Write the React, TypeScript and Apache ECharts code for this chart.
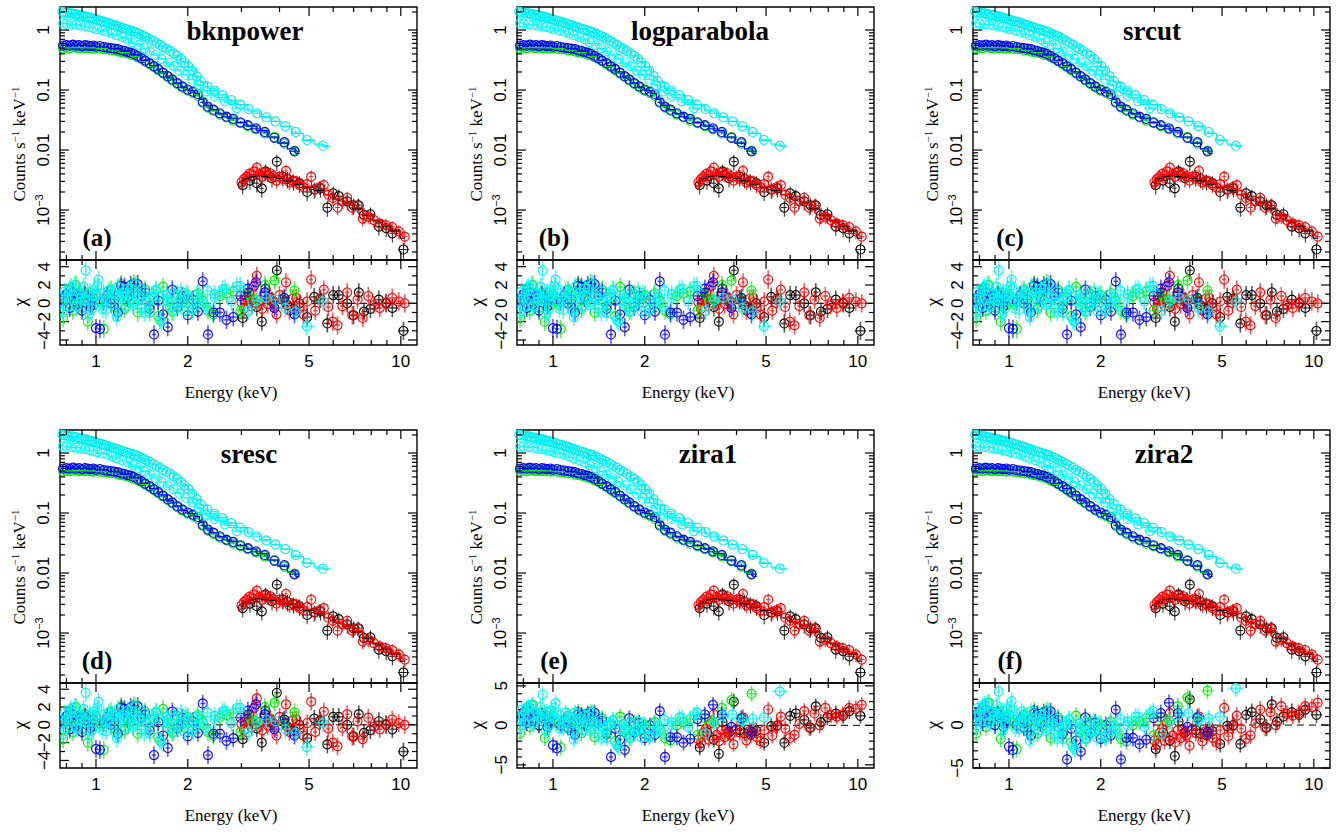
import React, { useEffect, useRef } from 'react';
import * as echarts from 'echarts';

const SERIF = '"Liberation Serif", "Times New Roman", serif';
const SANS = '"Liberation Sans", Arial, sans-serif';

// ---------------- panels ----------------
const PANEL_TITLES = ['bknpower', 'logparabola', 'srcut', 'sresc', 'zira1', 'zira2'];
const PANEL_TAGS = ['(a)', '(b)', '(c)', '(d)', '(e)', '(f)'];
const PANEL_RESID_SET = [0, 0, 0, 0, 1, 1];
const PANEL_RESID_RANGE = [
  [-4.55, 4.73], [-4.55, 4.73], [-4.55, 4.73],
  [-4.85, 4.7], [-5.4, 5.36], [-5.0, 4.9],
];

// ---------------- axes / ticks ----------------
const X_MIN = 0.762;
const X_MAX = 11.3;
const Y_MIN = 1.47e-4;
const Y_MAX = 2.42;
const X_MAJOR = [1, 2, 5, 10];
const X_MAJOR_LABELS = ['1', '2', '5', '10'];
const X_MINOR = [0.8, 0.9, 3, 4, 6, 7, 8, 9];
const Y_MAJOR = [0.001, 0.01, 0.1, 1];
const Y_MAJOR_LABELS = ['{a|10}{b|−3}', '{a|0.01}', '{a|0.1}', '{a|1}'];
const Y_MINOR = [
  2e-4, 3e-4, 4e-4, 5e-4, 6e-4, 7e-4, 8e-4, 9e-4,
  0.002, 0.003, 0.004, 0.005, 0.006, 0.007, 0.008, 0.009,
  0.02, 0.03, 0.04, 0.05, 0.06, 0.07, 0.08, 0.09,
  0.2, 0.3, 0.4, 0.5, 0.6, 0.7, 0.8, 0.9, 2,
];
const RES_MAJOR = [[-4, -2, 0, 2, 4], [-5, 0, 5]];
const RES_MINOR = [[-3, -1, 1, 3], [-4, -3, -2, -1, 1, 2, 3, 4]];

// ---------------- spectra data (keV, counts/s/keV) ----------------
const E_BG = [0.78, 0.80, 0.82, 0.84, 0.86, 0.88, 0.90, 0.92, 0.94, 0.96, 0.98, 1.00, 1.03, 1.06, 1.09, 1.12, 1.15, 1.18, 1.21, 1.24, 1.27, 1.30, 1.33, 1.37, 1.41, 1.45, 1.50, 1.55, 1.60, 1.66, 1.72, 1.78, 1.85, 1.92, 2.00, 2.08, 2.16, 2.24, 2.33, 2.43, 2.55, 2.68, 2.82, 2.98, 3.15, 3.35, 3.58, 3.85, 4.15, 4.48];
const BLUE = [0.55, 0.56, 0.55, 0.57, 0.55, 0.56, 0.54, 0.56, 0.55, 0.54, 0.55, 0.53, 0.54, 0.52, 0.51, 0.50, 0.49, 0.48, 0.46, 0.45, 0.43, 0.42, 0.40, 0.37, 0.34, 0.31, 0.28, 0.25, 0.225, 0.195, 0.17, 0.15, 0.13, 0.115, 0.102, 0.094, 0.086, 0.062, 0.053, 0.047, 0.041, 0.036, 0.033, 0.029, 0.026, 0.023, 0.020, 0.016, 0.0135, 0.0095];
const GREEN = [0.50, 0.51, 0.50, 0.52, 0.51, 0.50, 0.51, 0.50, 0.51, 0.50, 0.49, 0.50, 0.49, 0.48, 0.48, 0.46, 0.46, 0.44, 0.43, 0.42, 0.41, 0.39, 0.38, 0.35, 0.33, 0.30, 0.27, 0.24, 0.215, 0.19, 0.165, 0.145, 0.125, 0.11, 0.098, 0.09, 0.08, 0.065, 0.051, 0.045, 0.039, 0.035, 0.031, 0.028, 0.025, 0.022, 0.019, 0.0165, 0.0128, 0.0098];
const E_CU = [0.775, 0.79, 0.805, 0.82, 0.835, 0.85, 0.865, 0.88, 0.895, 0.91, 0.925, 0.94, 0.955, 0.97, 0.985, 1.00, 1.02, 1.04, 1.06, 1.08, 1.10, 1.12, 1.14, 1.16, 1.18, 1.20, 1.225, 1.25, 1.275, 1.30, 1.325, 1.35, 1.38, 1.41, 1.44, 1.47, 1.50, 1.54, 1.58, 1.62, 1.66, 1.70, 1.75, 1.80, 1.85, 1.90, 1.95, 2.01, 2.07, 2.14, 2.21, 2.32, 2.45, 2.60, 2.78, 2.97, 3.17, 3.38, 3.62, 3.88, 4.18, 4.52, 4.92, 5.55];
const CYAN_U = [2.02, 1.97, 1.95, 1.90, 1.89, 1.84, 1.82, 1.78, 1.76, 1.71, 1.69, 1.64, 1.61, 1.58, 1.54, 1.50, 1.46, 1.41, 1.38, 1.33, 1.30, 1.26, 1.22, 1.19, 1.15, 1.12, 1.08, 1.05, 1.01, 0.98, 0.95, 0.92, 0.87, 0.83, 0.79, 0.75, 0.71, 0.66, 0.61, 0.57, 0.52, 0.49, 0.45, 0.41, 0.37, 0.33, 0.29, 0.25, 0.21, 0.17, 0.14, 0.115, 0.098, 0.082, 0.068, 0.057, 0.048, 0.041, 0.035, 0.030, 0.025, 0.020, 0.0148, 0.0118];
const E_CL = [0.78, 0.80, 0.83, 0.86, 0.89, 0.92, 0.95, 0.98, 1.01, 1.05, 1.09, 1.13, 1.17, 1.22, 1.27, 1.32, 1.38, 1.44, 1.50, 1.57, 1.64, 1.72, 1.80, 1.88, 1.97, 2.07, 2.18, 2.30, 2.45, 2.65, 2.90];
const CYAN_L = [1.30, 1.28, 1.26, 1.23, 1.20, 1.17, 1.13, 1.09, 1.04, 0.99, 0.94, 0.88, 0.82, 0.76, 0.70, 0.63, 0.56, 0.50, 0.44, 0.38, 0.33, 0.29, 0.25, 0.21, 0.18, 0.15, 0.12, 0.095, 0.08, 0.065, 0.05];
const E_RED = [3.00, 3.06, 3.12, 3.18, 3.24, 3.30, 3.37, 3.44, 3.51, 3.58, 3.66, 3.74, 3.82, 3.91, 4.00, 4.10, 4.20, 4.31, 4.42, 4.54, 4.66, 4.79, 4.93, 5.08, 5.24, 5.41, 5.59, 5.78, 5.98, 6.20, 6.43, 6.67, 6.93, 7.21, 7.50, 7.82, 8.16, 8.53, 8.93, 9.37, 9.85, 10.3];
const RED = [0.0029, 0.0033, 0.0036, 0.0040, 0.0038, 0.0044, 0.0051, 0.0040, 0.0036, 0.0042, 0.0039, 0.0041, 0.0037, 0.0031, 0.0036, 0.0033, 0.0045, 0.0029, 0.0031, 0.0030, 0.0026, 0.0024, 0.0027, 0.0036, 0.0022, 0.0024, 0.0026, 0.0018, 0.0016, 0.0011, 0.0014, 0.0016, 0.0011, 0.0012, 0.00072, 0.00078, 0.00068, 0.00060, 0.00056, 0.00052, 0.00044, 0.00036];
const E_BLK = [3.03, 3.20, 3.37, 3.50, 3.60, 3.78, 3.92, 4.10, 4.25, 4.45, 4.65, 4.93, 5.20, 5.45, 5.74, 6.00, 6.26, 6.67, 7.00, 7.28, 7.57, 7.95, 8.47, 8.95, 9.38, 10.2];
const BLACK = [0.0026, 0.0031, 0.0028, 0.0023, 0.0044, 0.0034, 0.0064, 0.0036, 0.0033, 0.0030, 0.0028, 0.0020, 0.0022, 0.0023, 0.0011, 0.0019, 0.0017, 0.0014, 0.0012, 0.0012, 0.00083, 0.00085, 0.00053, 0.00050, 0.00041, 0.00022];

// ---------------- folded models (step histograms) ----------------
const MOD_E_BG = [0.77, 0.85, 0.95, 1.05, 1.15, 1.25, 1.35, 1.45, 1.55, 1.65, 1.75, 1.85, 1.95, 2.05, 2.15, 2.22, 2.3, 2.45, 2.6, 2.8, 3.0, 3.25, 3.5, 3.8, 4.1, 4.4, 4.65];
const MOD_BLUE = [0.555, 0.555, 0.548, 0.525, 0.49, 0.445, 0.385, 0.315, 0.255, 0.2, 0.16, 0.13, 0.11, 0.098, 0.088, 0.07, 0.056, 0.047, 0.04, 0.034, 0.029, 0.025, 0.021, 0.0165, 0.013, 0.0105, 0.0088];
const MOD_GREEN = [0.505, 0.51, 0.505, 0.49, 0.46, 0.42, 0.365, 0.3, 0.245, 0.195, 0.155, 0.127, 0.107, 0.095, 0.085, 0.07, 0.054, 0.045, 0.039, 0.033, 0.028, 0.0245, 0.0205, 0.0165, 0.013, 0.0102, 0.0088];
const MOD_E_CU = [0.77, 0.85, 0.95, 1.05, 1.15, 1.25, 1.35, 1.45, 1.55, 1.65, 1.75, 1.85, 1.95, 2.05, 2.15, 2.25, 2.4, 2.6, 2.8, 3.0, 3.3, 3.6, 3.9, 4.2, 4.6, 5.0, 5.4, 5.8];
const MOD_CYAN_U = [2.0, 1.84, 1.63, 1.42, 1.22, 1.05, 0.91, 0.77, 0.65, 0.54, 0.46, 0.37, 0.3, 0.235, 0.17, 0.135, 0.105, 0.085, 0.068, 0.057, 0.045, 0.036, 0.030, 0.025, 0.019, 0.0145, 0.0125, 0.0115];
const MOD_E_CL = [0.77, 0.85, 0.95, 1.05, 1.15, 1.25, 1.35, 1.45, 1.55, 1.65, 1.75, 1.85, 1.95, 2.05, 2.15, 2.25, 2.38, 2.55, 2.75, 3.0];
const MOD_CYAN_L = [1.31, 1.24, 1.12, 0.99, 0.85, 0.73, 0.6, 0.49, 0.4, 0.33, 0.27, 0.22, 0.18, 0.15, 0.125, 0.1, 0.088, 0.075, 0.062, 0.05];
const MOD_E_HI = [2.98, 3.1, 3.25, 3.4, 3.6, 3.8, 4.0, 4.3, 4.6, 5.0, 5.4, 5.8, 6.2, 6.7, 7.2, 7.8, 8.4, 9.0, 9.6, 10.3];
const MOD_RED = [0.0029, 0.0035, 0.0039, 0.0040, 0.0039, 0.0037, 0.0035, 0.0032, 0.0028, 0.0025, 0.0022, 0.0018, 0.0015, 0.0013, 0.0011, 0.00085, 0.00068, 0.00056, 0.00047, 0.00038];
const MOD_BLACK = [0.0028, 0.0033, 0.0036, 0.0037, 0.0036, 0.0035, 0.0034, 0.0031, 0.0027, 0.0024, 0.0021, 0.0018, 0.0015, 0.0013, 0.00105, 0.00082, 0.00066, 0.00054, 0.00045, 0.00034];

// ---------------- residuals (chi), set A: panels a-d ----------------
const RA_BLUE = [0.3, 1.0, -0.5, 1.2, 0.2, 0.8, -0.8, 0.9, 0.4, -0.3, 0.6, -2.7, -2.8, 0.2, 0.9, 0.0, 0.4, -1.0, 1.9, 1.8, 0.6, 2.0, 1.7, 2.1, 0.8, 1.2, -0.6, -3.4, 0.3, -1.2, -2.6, 1.5, -0.4, 0.8, -1.3, 0.4, -0.9, 2.4, -3.4, -1.0, -1.0, -1.8, -1.5, 0.8, 1.6, 2.3, 1.2, -0.5, 0.6, -1.2];
const RA_GREEN = [-1.6, 0.5, 1.4, -0.8, 2.0, 0.3, -0.5, 1.2, -2.0, 0.8, -0.2, 1.0, 0.2, -2.8, 0.5, 1.5, -0.4, 0.9, 2.1, -0.6, 1.2, 0.4, 2.2, -1.0, 0.8, 1.5, -0.3, 0.6, -1.4, 1.8, 0.2, -0.9, 1.0, 0.1, 0.9, -0.6, 1.1, 0.3, -0.8, -1.2, 0.8, 1.1, 1.3, -0.8, 1.0, 0.4, 2.0, 2.5, 0.5, 1.4];
const RA_CYAN_U = [0.2, 1.3, -0.4, 1.6, 0.5, 2.0, -0.3, 1.1, 0.6, 1.8, 3.6, 0.4, 1.2, -0.6, 1.5, 0.8, 2.6, 0.3, 1.1, -0.7, 1.4, 0.2, 1.0, -0.9, 1.8, 0.5, 1.2, -0.3, 0.9, 1.6, 0.1, 2.1, 0.6, -0.5, 1.3, 0.2, -1.0, 0.7, 1.4, -1.8, 0.3, 0.9, -0.4, 1.1, 0.0, 1.3, -0.8, 0.5, -0.6, 0.9, 0.6, 1.4, 1.0, 1.5, 0.2, 1.9, -0.8, 0.3, 0.6, 0.4, -0.5, -0.9, -2.5, 0.2];
const RA_CYAN_L = [-1.0, 0.6, 1.8, -0.4, 1.0, 0.3, -1.2, 0.8, 1.9, -0.6, 0.5, 1.2, -1.5, 0.7, 1.6, -0.2, 0.9, -1.0, 0.4, 1.5, -2.0, 0.6, -0.8, 0.3, 1.1, -0.7, 0.2, -0.3, 0.6, 1.6, 1.9];
const RA_RED = [0.1, -0.6, 0.6, 1.2, -0.3, 1.9, 3.0, 0.3, -0.6, 0.9, -0.1, 0.6, 0.2, -1.2, 0.9, 0.4, 2.3, -0.8, 0.5, 0.6, -0.5, -1.2, 0.2, 2.6, -0.8, 0.4, 1.5, -0.4, -2.0, -2.4, -0.3, 1.2, -1.3, 0.4, -1.6, 0.8, -0.2, -0.5, 0.1, 0.6, 0.2, 0.0];
const RA_BLACK = [-1.6, 0.5, -0.4, -2.0, 1.6, 0.2, 3.6, 0.4, -0.2, -0.6, 0.0, -1.5, 0.7, 0.5, -2.2, 0.9, 0.9, 0.0, -1.3, 1.2, -0.9, -0.6, 0.4, 0.0, -0.5, -3.0];

// ---------------- residuals (chi), set B: panels e-f ----------------
const RB_BLUE = [0.8, 1.6, 0.3, 1.8, 0.9, 1.3, 0.0, 1.2, 0.8, -0.2, 0.5, -2.5, -2.9, 0.0, 0.6, -0.3, 0.2, -1.2, 1.4, 1.3, 0.2, 1.5, 1.2, 1.6, 0.3, 0.6, -1.1, -4.0, -0.4, -1.8, -3.1, 0.9, -0.9, 0.3, -1.6, 0.0, -1.2, 1.8, -4.0, -1.5, -1.5, -2.2, -1.7, 0.8, 1.4, 2.6, 1.4, -0.2, 0.9, -0.8];
const RB_GREEN = [-1.0, 1.0, 2.0, -0.2, 2.6, 0.8, 0.0, 1.6, -1.6, 1.2, 0.2, 1.2, 0.3, -2.8, 0.4, 1.2, -0.7, 0.6, 1.7, -1.0, 0.8, 0.0, 1.7, -1.5, 0.3, 0.9, -0.9, 0.0, -2.0, 1.1, -0.5, -1.6, 0.3, -0.6, 0.1, -1.3, 0.4, -0.5, -1.6, -1.9, 0.0, 0.4, 0.8, -1.2, 0.9, 0.5, 2.2, 3.2, 0.8, 4.0];
const RB_CYAN_U = [0.9, 2.0, 0.4, 2.2, 1.2, 2.6, 0.3, 1.6, 1.1, 2.3, 3.9, 0.9, 1.7, 0.0, 1.9, 1.2, 2.8, 0.6, 1.3, -0.4, 1.6, 0.4, 1.1, -0.8, 1.6, 0.3, 0.9, -0.6, 0.5, 1.2, -0.3, 1.6, 0.1, -1.0, 0.7, -0.4, -1.6, 0.0, 0.6, -2.5, -0.5, 0.2, -1.1, 0.4, -0.7, 0.5, -1.5, -0.3, -1.4, 0.2, -0.1, 0.7, 0.4, 1.0, -0.2, 1.6, -1.0, 0.4, 1.2, 1.4, 0.6, 0.8, 1.0, 4.3];
const RB_CYAN_L = [-0.3, 1.2, 2.4, 0.2, 1.5, 0.8, -0.7, 1.2, 2.2, -0.4, 0.5, 1.0, -1.8, 0.4, 1.2, -0.7, 0.3, -1.6, -0.3, 0.7, -2.8, -0.3, -1.6, -0.6, 0.2, -1.5, -0.7, -1.0, 0.0, 1.0, 1.4];
const RB_RED = [-1.8, -2.2, -0.9, -0.4, -1.8, 0.3, 1.4, -1.2, -2.0, -0.6, -1.5, -0.9, -1.2, -2.4, -0.5, -0.9, 1.0, -1.9, -0.7, -0.5, -1.5, -2.0, -0.6, 2.0, -1.3, -0.1, 1.1, -0.4, -1.6, -1.2, 0.2, 1.8, -0.3, 1.5, 0.0, 2.2, 1.3, 1.1, 1.4, 2.2, 2.1, 2.6];
const RB_BLACK = [-2.8, -0.9, -1.8, -3.6, 0.4, -0.9, 3.0, -0.6, -1.0, -1.2, -0.7, -2.2, -0.1, 0.0, -2.2, 1.2, 1.5, 0.7, -0.3, 2.4, 0.4, 1.0, 1.5, 1.2, 1.8, 1.2];

// ---------------- datasets (drawing order: black, red, green, blue, cyan) ----------------
const DATASETS = [
  { name: 'black', color: '#000000', E: E_BLK, V: BLACK, RA: RA_BLACK, RB: RB_BLACK, ME: MOD_E_HI, MV: MOD_BLACK, err: 0.3 },
  { name: 'red', color: '#ff0000', E: E_RED, V: RED, RA: RA_RED, RB: RB_RED, ME: MOD_E_HI, MV: MOD_RED, err: 0.26 },
  { name: 'green', color: '#00ee00', E: E_BG, V: GREEN, RA: RA_GREEN, RB: RB_GREEN, ME: MOD_E_BG, MV: MOD_GREEN, err: 0.05 },
  { name: 'blue', color: '#0000ff', E: E_BG, V: BLUE, RA: RA_BLUE, RB: RB_BLUE, ME: MOD_E_BG, MV: MOD_BLUE, err: 0.05 },
  { name: 'cyanL', color: '#00ffff', E: E_CL, V: CYAN_L, RA: RA_CYAN_L, RB: RB_CYAN_L, ME: MOD_E_CL, MV: MOD_CYAN_L, err: 0.05 },
  { name: 'cyanU', color: '#00f0f0', E: E_CU, V: CYAN_U, RA: RA_CYAN_U, RB: RB_CYAN_U, ME: MOD_E_CU, MV: MOD_CYAN_U, err: 0.05 },
];

// ---------------- layout ----------------
const COL_LEFT = [60, 517, 973];
const COL_W = 357;
const ROW_TOP = [7, 430];
const SPEC_H = 253;
const RES_H = 85;
const TITLE_DX = [185, 183, 179, 189, 191, 191];

function zip(E: number[], V: number[]) {
  const n = Math.min(E.length, V.length);
  const out: number[][] = [];
  for (let i = 0; i < n; i++) out.push([E[i], V[i]]);
  return out;
}

function pointRenderer(E: number[], color: string, relErr: number | null) {
  const isRes = relErr == null;
  return (params: any, api: any) => {
    const i = params.dataIndex;
    const e = api.value(0);
    const v = api.value(1);
    const c = api.coord([e, v]);
    const xp = i > 0 ? api.coord([E[i - 1], v])[0] : null;
    const xn = i < E.length - 1 ? api.coord([E[i + 1], v])[0] : null;
    const hl = xp != null ? (c[0] - xp) / 2 : (xn! - c[0]) / 2;
    const hr = xn != null ? (xn - c[0]) / 2 : (c[0] - xp!) / 2;
    let yt: number;
    let yb: number;
    if (!isRes) {
      yt = api.coord([e, v * (1 + relErr!)])[1];
      yb = api.coord([e, v * (1 - relErr!)])[1];
    } else {
      yt = api.coord([e, v + 1])[1];
      yb = api.coord([e, v - 1])[1];
    }
    const barStyle = { stroke: color, lineWidth: isRes ? 1.6 : 1, opacity: isRes ? 0.65 : 0.85 };
    return {
      type: 'group',
      children: [
        { type: 'line', shape: { x1: c[0] - hl, y1: c[1], x2: c[0] + hr, y2: c[1] }, style: barStyle },
        { type: 'line', shape: { x1: c[0], y1: yt, x2: c[0], y2: yb }, style: barStyle },
        { type: 'circle', shape: { cx: c[0], cy: c[1], r: 4.5 }, style: { fill: 'none', stroke: color, lineWidth: 1.1 } },
      ],
    };
  };
}

function txt(x: number, y: number, text: string, size: number, family: string, extra: any = {}) {
  return {
    type: 'text', x, y, rotation: extra.rotation || 0, silent: true,
    style: {
      text, fill: '#000', fontSize: size, fontFamily: family, fontWeight: extra.weight || 'normal',
      align: 'center', verticalAlign: 'middle', textAlign: 'center', textVerticalAlign: 'middle',
      rich: extra.rich,
    },
  };
}

function tickRenderer(isRes: boolean, set: number, range: number[]) {
  return (params: any, api: any) => {
    const cs = params.coordSys;
    const x0 = cs.x, y0 = cs.y, w = cs.width, h = cs.height;
    const yRef = isRes ? 0 : 1;
    const ch: any[] = [];
    const ln = (x1: number, y1: number, x2: number, y2: number, extra: any = {}) =>
      ch.push({ type: 'line', shape: { x1, y1, x2, y2 }, style: { stroke: '#000', lineWidth: 1.2, ...extra } });
    if (isRes) {
      const yz = api.coord([1, 0])[1];
      ln(x0, yz, x0 + w, yz, { lineDash: [7, 5], lineWidth: 1 });
    }
    const addX = (E: number, len: number) => {
      const x = api.coord([E, yRef])[0];
      ln(x, y0 + h, x, y0 + h - len);
      ln(x, y0, x, y0 + len);
    };
    X_MAJOR.forEach((E) => addX(E, 9));
    X_MINOR.forEach((E) => addX(E, 5));
    if (isRes) {
      X_MAJOR.forEach((E, k) => {
        const x = api.coord([E, 0])[0];
        ch.push(txt(x, y0 + h + 16, X_MAJOR_LABELS[k], 17, SANS));
      });
    }
    const addY = (y: number, len: number) => {
      ln(x0, y, x0 + len, y);
      ln(x0 + w, y, x0 + w - len, y);
    };
    if (!isRes) {
      Y_MAJOR.forEach((v, k) => {
        const y = api.coord([1, v])[1];
        addY(y, 9);
        ch.push(txt(x0 - 17, y, Y_MAJOR_LABELS[k], 17, SANS, {
          rotation: Math.PI / 2,
          rich: {
            a: { fontSize: 17, fontFamily: SANS, fill: '#000', lineHeight: 20 },
            b: { fontSize: 11, fontFamily: SANS, fill: '#000', verticalAlign: 'top' },
          },
        }));
      });
      Y_MINOR.forEach((v) => {
        if (v > Y_MIN && v < Y_MAX) addY(api.coord([1, v])[1], 5);
      });
    } else {
      RES_MAJOR[set].forEach((v) => {
        if (v < range[0] - 1e-6 || v > range[1] + 1e-6) return;
        const y = api.coord([1, v])[1];
        addY(y, 9);
        ch.push(txt(x0 - 16, y, String(v).replace('-', '−'), 17, SANS, { rotation: Math.PI / 2 }));
      });
      RES_MINOR[set].forEach((v) => {
        if (v < range[0] || v > range[1]) return;
        addY(api.coord([1, v])[1], 5);
      });
    }
    return { type: 'group', children: ch };
  };
}

function buildOption() {
  const grid: any[] = [];
  const xAxis: any[] = [];
  const yAxis: any[] = [];
  const series: any[] = [];
  const graphic: any[] = [];

  for (let p = 0; p < 6; p++) {
    const col = p % 3;
    const row = Math.floor(p / 3);
    const left = COL_LEFT[col];
    const top = ROW_TOP[row];
    const gS = grid.length;
    const gR = gS + 1;
    const range = PANEL_RESID_RANGE[p];
    const set = PANEL_RESID_SET[p];

    const gridBase = { show: true, borderColor: '#000', borderWidth: 1.4, backgroundColor: 'rgba(0,0,0,0)', containLabel: false };
    grid.push({ ...gridBase, left, top, width: COL_W, height: SPEC_H });
    grid.push({ ...gridBase, left, top: top + SPEC_H, width: COL_W, height: RES_H });

    const xBase = {
      type: 'log', logBase: 10, min: X_MIN, max: X_MAX,
      axisLine: { show: false }, axisTick: { show: false }, axisLabel: { show: false },
      splitLine: { show: false }, minorTick: { show: false },
    };
    xAxis.push({ ...xBase, gridIndex: gS });
    xAxis.push({ ...xBase, gridIndex: gR });
    yAxis.push({
      type: 'log', logBase: 10, gridIndex: gS, min: Y_MIN, max: Y_MAX,
      axisLine: { show: false }, axisTick: { show: false }, axisLabel: { show: false }, splitLine: { show: false },
    });
    yAxis.push({
      type: 'value', gridIndex: gR, min: range[0], max: range[1],
      axisLine: { show: false }, axisTick: { show: false }, axisLabel: { show: false }, splitLine: { show: false },
    });

    // ticks & labels
    series.push({
      type: 'custom', xAxisIndex: gS, yAxisIndex: gS, data: [[1, 1]], encode: { x: 0, y: 1 },
      renderItem: tickRenderer(false, set, range), silent: true, z: 5,
    });
    series.push({
      type: 'custom', xAxisIndex: gR, yAxisIndex: gR, data: [[1, 0]], encode: { x: 0, y: 1 },
      renderItem: tickRenderer(true, set, range), silent: true, z: 1,
    });

    DATASETS.forEach((d) => {
      // model histogram
      series.push({
        type: 'line', xAxisIndex: gS, yAxisIndex: gS, data: zip(d.ME, d.MV), step: 'middle',
        showSymbol: false, symbol: 'none', silent: true, z: 2,
        lineStyle: { color: d.color, width: 1.2 },
      });
      // data points
      const pts = zip(d.E, d.V);
      series.push({
        type: 'custom', xAxisIndex: gS, yAxisIndex: gS, data: pts, encode: { x: 0, y: 1 },
        renderItem: pointRenderer(pts.map((q) => q[0]), d.color, d.err), silent: true, z: 2,
      });
      // residuals
      const res = zip(d.E, set === 0 ? d.RA : d.RB);
      series.push({
        type: 'custom', xAxisIndex: gR, yAxisIndex: gR, data: res, encode: { x: 0, y: 1 }, clip: true,
        renderItem: pointRenderer(res.map((q) => q[0]), d.color, null), silent: true, z: 2,
      });
    });

    // texts
    graphic.push(txt(left + TITLE_DX[p], top + 24, PANEL_TITLES[p], 27, SERIF, { weight: 'bold' }));
    graphic.push(txt(left + 37, top + 230, PANEL_TAGS[p], 25, SERIF, { weight: 'bold' }));
    graphic.push(txt(left - 41, top + 137, '{a|Counts s}{b|−1}{a| keV}{b|−1}', 17, SERIF, {
      rotation: Math.PI / 2,
      rich: {
        a: { fontSize: 17, fontFamily: SERIF, fill: '#000', lineHeight: 20 },
        b: { fontSize: 11, fontFamily: SERIF, fill: '#000', verticalAlign: 'top' },
      },
    }));
    graphic.push(txt(left - 41, top + SPEC_H + 42, 'χ', 19, SERIF, { rotation: Math.PI / 2 }));
    graphic.push(txt(left + 171, top + SPEC_H + RES_H + 47, 'Energy (keV)', 17, SERIF));
  }

  return {
    animation: false,
    backgroundColor: '#ffffff',
    grid, xAxis, yAxis, series, graphic,
  };
}

export default function App() {
  const ref = useRef<HTMLDivElement>(null);
  useEffect(() => {
    const chart = echarts.init(ref.current!, null, { renderer: 'svg' });
    chart.setOption(buildOption() as any);
    return () => chart.dispose();
  }, []);
  return (
    <div
      ref={ref}
      style={{ position: 'fixed', left: 0, top: 0, width: 1340, height: 832, background: '#fff' }}
    />
  );
}
